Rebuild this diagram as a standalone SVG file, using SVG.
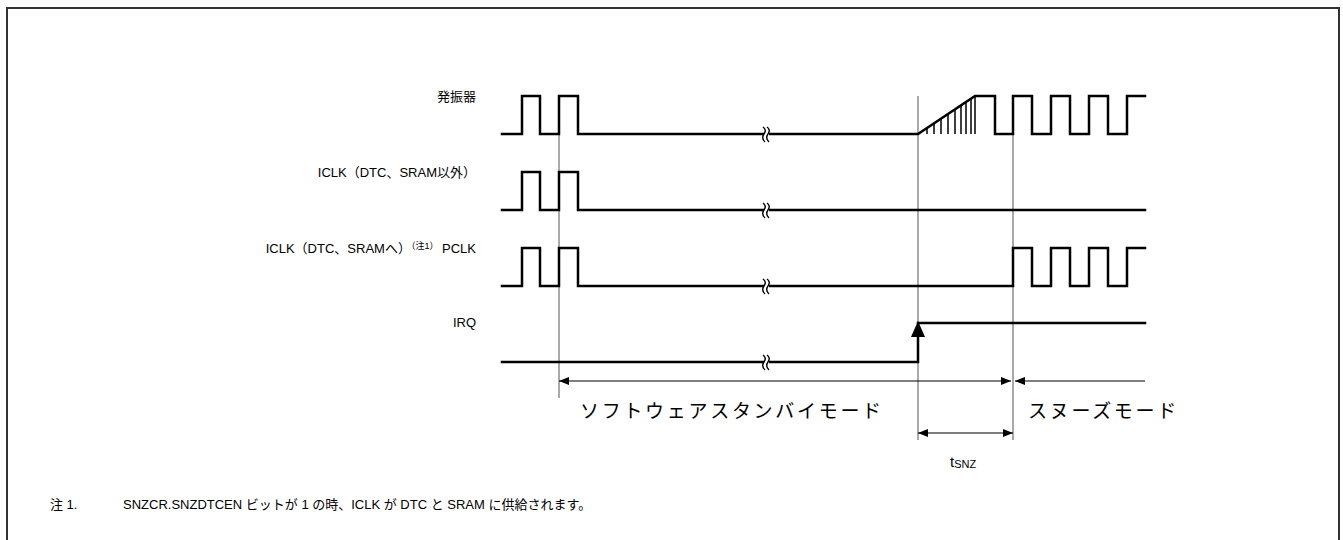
<svg xmlns="http://www.w3.org/2000/svg" width="1343" height="540" viewBox="0 0 1343 540">
<style>
.sig{fill:none;stroke:#000;stroke-width:2.5;stroke-linejoin:miter;stroke-linecap:square}
.guide{fill:none;stroke:#555;stroke-width:1}
.dim{fill:none;stroke:#000;stroke-width:1.2}
.hatch{fill:none;stroke:#000;stroke-width:1.5}
.lbl{font-family:"Liberation Sans","Noto Sans CJK JP",sans-serif;font-size:13px;fill:#000}
.mode{font-family:"Noto Sans CJK JP","Liberation Sans",sans-serif;font-size:19px;fill:#000;letter-spacing:2.7px}
.brk{fill:none;stroke:#000;stroke-width:1.4}
</style>
<defs>
<marker id="ah" viewBox="0 0 10 8" refX="10" refY="4" markerWidth="10" markerHeight="8" markerUnits="userSpaceOnUse" orient="auto-start-reverse">
<path d="M0,0 L10,4 L0,8 Z" fill="#000"/>
</marker>
<g id="brk">
<rect x="-3" y="-3" width="5" height="6" fill="#fff"/>
<path class="brk" d="M-4,-7 q4,3 1,7 t1,8"/>
<path class="brk" d="M0,-7 q4,3 1,7 t1,8"/>
</g>
</defs>
<rect x="7" y="8" width="1332" height="545" fill="#fff" stroke="#333" stroke-width="2"/>

<g id="guides">
<line class="guide" x1="559" y1="134" x2="559" y2="398"/>
<line class="guide" x1="918" y1="96" x2="918" y2="440"/>
<line class="guide" x1="1013" y1="134" x2="1013" y2="440"/>
</g>

<g id="osc">
<text class="lbl" x="476" y="101" text-anchor="end">発振器</text>
<path class="sig" d="M502,134 H522 V96 H540 V134 H559 V96 H578 V134 H918 L975,96 H995 V134 H1013 V96 H1032 V134 H1051 V96 H1070 V134 H1089 V96 H1108 V134 H1127 V96 H1145"/>
<path class="hatch" d="M927,134 V128 M934,134 V123 M941,134 V119 M948,134 V114 M955,134 V109 M961,134 V105 M966,134 V102 M971,134 V99 M975,134 V96"/>
<use href="#brk" x="767" y="134"/>
</g>

<g id="iclk">
<text class="lbl" x="476" y="177" text-anchor="end">ICLK（DTC、SRAM以外）</text>
<path class="sig" d="M502,210 H522 V172 H540 V210 H559 V172 H578 V210 H1145"/>
<use href="#brk" x="767" y="210"/>
</g>

<g id="iclk-dtc">
<text class="lbl" x="476" y="253" text-anchor="end">ICLK（DTC、SRAMへ）<tspan font-size="9" dy="-4">（注1）</tspan><tspan dy="4"> PCLK</tspan></text>
<path class="sig" d="M502,286 H522 V248 H540 V286 H559 V248 H578 V286 H1013 V248 H1032 V286 H1051 V248 H1070 V286 H1089 V248 H1108 V286 H1127 V248 H1145"/>
<use href="#brk" x="767" y="286"/>
</g>

<g id="irq">
<text class="lbl" x="476" y="327" text-anchor="end">IRQ</text>
<path class="sig" d="M502,362 H918 V336"/>
<path d="M911,337 L918,321 L925,337 Z" fill="#000"/>
<path class="sig" d="M918,323 H1145"/>
<use href="#brk" x="767" y="362"/>
</g>

<g id="connectors">
<line class="dim" x1="559" y1="381" x2="1011" y2="381" marker-start="url(#ah)" marker-end="url(#ah)"/>
<line class="dim" x1="1015" y1="381" x2="1145" y2="381" marker-start="url(#ah)"/>
<line class="dim" x1="918" y1="433" x2="1013" y2="433" marker-start="url(#ah)" marker-end="url(#ah)"/>
</g>

<g id="labels">
<text class="lbl" x="950" y="467" style="font-size:15px">t<tspan style="font-size:11px" dy="1">SNZ</tspan></text>
<text class="mode" x="580" y="418">ソフトウェアスタンバイモード</text>
<text class="mode" x="1028" y="418">スヌーズモード</text>
<text class="lbl" x="50" y="509">注 1.</text>
<text class="lbl" x="123" y="509">SNZCR.SNZDTCEN ビットが 1 の時、ICLK が DTC と SRAM に供給されます。</text>
</g>
</svg>
